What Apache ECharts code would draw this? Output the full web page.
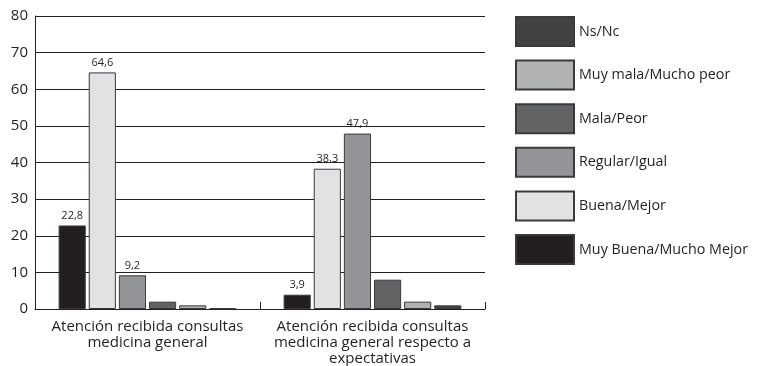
<!DOCTYPE html>
<html>
<head>
<meta charset="utf-8">
<script src="https://cdn.jsdelivr.net/npm/echarts@6/dist/echarts.min.js"></script>
<style>
  html, body { margin: 0; padding: 0; background: #fff; }
  #chart { width: 758px; height: 366px; }
</style>
</head>
<body>
<div id="chart"></div>
<script>
// Categories on the x axis
const categories = [
  'Atención recibida consultas\nmedicina general',
  'Atención recibida consultas\nmedicina general respecto a\nexpectativas'
];

// One array per answer, values in % for each category
const muyBuena = [22.8, 3.9];
const buena    = [64.6, 38.3];
const regular  = [9.2, 47.9];
const mala     = [2.0, 8.0];
const muyMala  = [1.0, 2.0];
const nsNc     = [0.2, 1.0];

// Which bars carry a value label (per series, per category)
const labelledMuyBuena = [true, true];
const labelledBuena    = [true, true];
const labelledRegular  = [true, true];
const labelledMala     = [false, false];
const labelledMuyMala  = [false, false];
const labelledNsNc     = [false, false];

const yTicks = [0, 10, 20, 30, 40, 50, 60, 70, 80];

const seriesDefs = [
  { name: 'Muy Buena/Mucho Mejor', data: muyBuena, labelled: labelledMuyBuena, color: '#231f20' },
  { name: 'Buena/Mejor',           data: buena,    labelled: labelledBuena,    color: '#e1e2e4' },
  { name: 'Regular/Igual',         data: regular,  labelled: labelledRegular,  color: '#929497' },
  { name: 'Mala/Peor',             data: mala,     labelled: labelledMala,     color: '#626365' },
  { name: 'Muy mala/Mucho peor',   data: muyMala,  labelled: labelledMuyMala,  color: '#b1b2b4' },
  { name: 'Ns/Nc',                 data: nsNc,     labelled: labelledNsNc,     color: '#414244' }
];

// Legend lists the answers from the bottom of the scale upwards
const legendOrder = ['Ns/Nc', 'Muy mala/Mucho peor', 'Mala/Peor', 'Regular/Igual', 'Buena/Mejor', 'Muy Buena/Mucho Mejor'];

const FONT = '"Open Sans", "Noto Sans", sans-serif';

const chart = echarts.init(document.getElementById('chart'), null, { renderer: 'canvas' });

chart.setOption({
  animation: false,
  backgroundColor: '#ffffff',
  textStyle: { fontFamily: FONT },
  grid: { left: 35, right: 273, top: 16, bottom: 57, containLabel: false, outerBoundsMode: 'none' },
  legend: {
    orient: 'vertical',
    left: 515,
    top: 16,
    padding: 0,
    itemWidth: 58,
    itemHeight: 29,
    itemGap: 12.6,
    icon: 'rect',
    data: legendOrder,
    textStyle: { fontFamily: FONT, fontSize: 14.3, color: '#231f20', lineHeight: 29 }
  },
  xAxis: {
    type: 'category',
    data: categories,
    axisLine: { lineStyle: { color: '#231f20', width: 1 } },
    axisTick: { show: true, inside: true, length: 7, lineStyle: { color: '#231f20' } },
    axisLabel: {
      fontFamily: FONT, fontSize: 15, color: '#231f20',
      lineHeight: 16, margin: 10, interval: 0, align: 'center'
    }
  },
  yAxis: {
    type: 'value',
    min: yTicks[0],
    max: yTicks[yTicks.length - 1],
    interval: yTicks[1] - yTicks[0],
    axisLine: { show: true, lineStyle: { color: '#231f20', width: 1 } },
    axisTick: { show: false },
    axisLabel: { fontFamily: FONT, fontSize: 15, color: '#231f20', margin: 7 },
    splitLine: { show: true, lineStyle: { color: '#231f20', width: 1 } }
  },
  series: seriesDefs.map(s => ({
    name: s.name,
    type: 'bar',
    barCategoryGap: '21%',
    barGap: '11%',
    itemStyle: { color: s.color, borderColor: '#3a3a3c', borderWidth: 1 },
    data: s.data.map((v, i) => ({
      value: v,
      label: {
        show: s.labelled[i],
        position: 'top',
        distance: 4,
        fontFamily: FONT,
        fontSize: 11,
        color: '#231f20',
        formatter: p => String(p.value).replace('.', ',')
      }
    }))
  }))
});
</script>
</body>
</html>
